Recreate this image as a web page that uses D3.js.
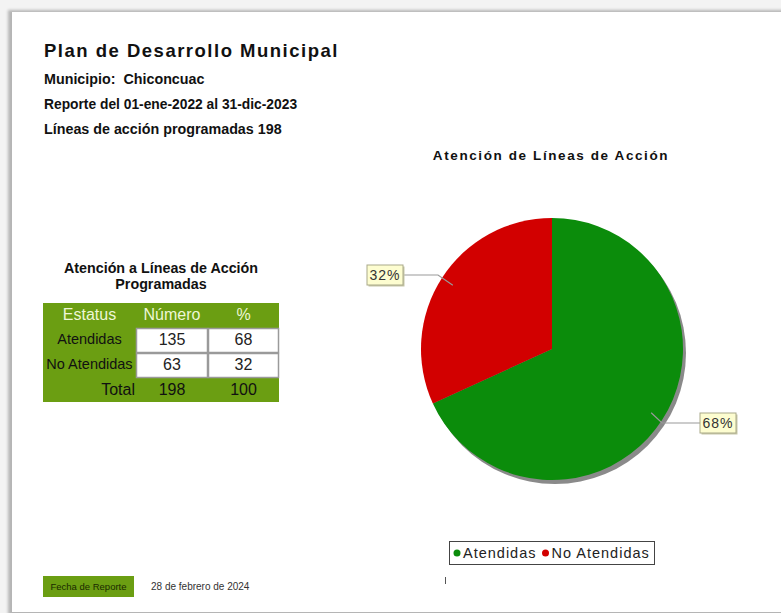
<!DOCTYPE html>
<html><head><meta charset="utf-8">
<script src="https://cdn.jsdelivr.net/npm/d3@7"></script>
<style>
html,body{margin:0;padding:0;background:#f3f3f3;}
svg{display:block;font-family:"Liberation Sans",Arial,sans-serif;}
</style></head>
<body>
<script>
const categories = ["Atendidas", "No Atendidas"];
const values = [135, 63];
const percents = [68, 32];
const totalLabel = ["Total", 198, 100];
const headers = ["Estatus", "Número", "%"];
const colors = ["#0b8c0b", "#d20000"];
const infoLines = ["Municipio:  Chiconcuac", "Reporte del 01-ene-2022 al 31-dic-2023", "Líneas de acción programadas 198"];

const W = 781, H = 613;
const svg = d3.select("body").append("svg").attr("width", W).attr("height", H);
const defs = svg.append("defs");
const f = defs.append("filter").attr("id","sh").attr("x","-10%").attr("y","-10%").attr("width","120%").attr("height","120%");
f.append("feGaussianBlur").attr("stdDeviation", 1.5);

// card
svg.append("rect").attr("x", 8).attr("y", 10).attr("width", 780).attr("height", 610).attr("fill", "#b5b5b5").attr("filter","url(#sh)");
svg.append("rect").attr("x", 12).attr("y", 12).attr("width", 780).attr("height", 600).attr("fill", "#fff");

// header texts
svg.append("text").attr("x", 44).attr("y", 57).attr("font-size", 18.5).attr("font-weight", "bold")
  .attr("letter-spacing", 1.5).attr("fill", "#111").text("Plan de Desarrollo Municipal");
const infoSizes = [14.3, 13.8, 14.3];
infoLines.forEach((t, i) => {
  svg.append("text").attr("x", 44).attr("y", 84 + i * 25).attr("font-size", infoSizes[i]).attr("font-weight", "bold")
    .attr("fill", "#111").style("white-space","pre").text(t);
});

// table title
const tt = svg.append("text").attr("font-size", 14.3).attr("font-weight", "bold").attr("text-anchor", "middle").attr("fill", "#111");
tt.append("tspan").attr("x", 161).attr("y", 273).text("Atención a Líneas de Acción");
tt.append("tspan").attr("x", 161).attr("y", 289).text("Programadas");

// table
const green = "#6b9e12";
const colX = [43, 136, 208, 279];
const rowY = [303, 328, 353, 378, 402];
const tbl = svg.append("g");
tbl.append("rect").attr("x", colX[0]).attr("y", rowY[0]).attr("width", colX[3] - colX[0]).attr("height", rowY[4] - rowY[0]).attr("fill", green);
headers.forEach((h, i) => {
  tbl.append("text").attr("x", (colX[i] + colX[i + 1]) / 2).attr("y", rowY[0] + 17).attr("text-anchor", "middle")
    .attr("font-size", 16).attr("fill", "#eef7d6").text(h);
});
categories.forEach((c, r) => {
  const y0 = rowY[r + 1], y1 = rowY[r + 2];
  tbl.append("text").attr("x", (colX[0] + colX[1]) / 2).attr("y", y0 + 16).attr("text-anchor", "middle")
    .attr("font-size", 14.5).attr("fill", "#111").text(c);
  [values[r], percents[r]].forEach((v, k) => {
    tbl.append("rect").attr("x", colX[k + 1] + 0.5).attr("y", y0 + 0.5).attr("width", colX[k + 2] - colX[k + 1] - 1).attr("height", y1 - y0 - 1)
      .attr("fill", "#fff").attr("stroke", "#9a9a9a").attr("stroke-width", 1.5);
    tbl.append("text").attr("x", (colX[k + 1] + colX[k + 2]) / 2).attr("y", y0 + 17).attr("text-anchor", "middle")
      .attr("font-size", 16).attr("fill", "#222").text(v);
  });
});
tbl.append("text").attr("x", colX[1] - 1).attr("y", rowY[3] + 17).attr("text-anchor", "end").attr("font-size", 16).attr("fill", "#111").text(totalLabel[0]);
[totalLabel[1], totalLabel[2]].forEach((v, k) => {
  tbl.append("text").attr("x", (colX[k + 1] + colX[k + 2]) / 2).attr("y", rowY[3] + 17).attr("text-anchor", "middle")
    .attr("font-size", 16).attr("fill", "#111").text(v);
});

// chart title
svg.append("text").attr("x", 551).attr("y", 160).attr("text-anchor", "middle").attr("font-size", 13.5).attr("font-weight", "bold")
  .attr("letter-spacing", 1.6).attr("fill", "#111").text("Atención de Líneas de Acción");

// pie
const cx = 552, cy = 349, R = 131;
const pie = d3.pie().sort(null).value(d => d)(values);
const arc = d3.arc().innerRadius(0).outerRadius(R);
const pg = svg.append("g").attr("transform", `translate(${cx},${cy})`);
pg.append("circle").attr("cx", 3).attr("cy", 4).attr("r", R).attr("fill", "#8a8a8a");
pg.selectAll("path.s").data(pie).join("path").attr("class", "s").attr("d", arc).attr("fill", (d, i) => colors[i]);

// labels
function labelBox(x, y, t) {
  const g = svg.append("g");
  const w = 36, h = 20;
  g.append("rect").attr("x", x + 1.5).attr("y", y - h / 2 + 1.5).attr("width", w).attr("height", h).attr("fill", "#c8c8a8");
  g.append("rect").attr("x", x).attr("y", y - h / 2).attr("width", w).attr("height", h).attr("fill", "#fdfdd0").attr("stroke", "#a9a98a");
  g.append("text").attr("x", x + w / 2).attr("y", y + 5).attr("text-anchor", "middle").attr("font-size", 14)
    .attr("letter-spacing", 1).attr("fill", "#333").text(t);
}
const lineArc = d3.arc().innerRadius(R * 0.9).outerRadius(R * 0.9);
pie.forEach((d, i) => {
  const [px, py] = lineArc.centroid(d);
  const ax = cx + px, ay = cy + py;
  let pts, bx;
  if (i === 1) {
    bx = 367;
    pts = [[ax, ay], [438, 275], [bx + 36, 275]];
    svg.append("polyline").attr("points", pts.map(p => p.join(",")).join(" ")).attr("fill", "none").attr("stroke", "#999").attr("stroke-width", 1.2);
    labelBox(bx, 275, percents[i] + "%");
  } else {
    bx = 700;
    pts = [[ax, ay], [662, 423], [bx, 423]];
    svg.append("polyline").attr("points", pts.map(p => p.join(",")).join(" ")).attr("fill", "none").attr("stroke", "#999").attr("stroke-width", 1.2);
    labelBox(bx, 423, percents[i] + "%");
  }
});

// legend
const lg = svg.append("g");
lg.append("rect").attr("x", 449.5).attr("y", 541.5).attr("width", 205).attr("height", 23).attr("fill", "#fff").attr("stroke", "#444");
let lx = 457;
categories.forEach((c, i) => {
  lg.append("circle").attr("cx", lx).attr("cy", 553).attr("r", 3.5).attr("fill", colors[i]);
  const t = lg.append("text").attr("x", lx + 6).attr("y", 558).attr("font-size", 14.5).attr("letter-spacing", 1).attr("fill", "#222").text(c);
  lx += 6 + t.node().getComputedTextLength() + 9;
});
svg.append("line").attr("x1", 445.5).attr("x2", 445.5).attr("y1", 577).attr("y2", 584).attr("stroke", "#555");

// footer
svg.append("rect").attr("x", 43).attr("y", 576).attr("width", 91).attr("height", 21).attr("fill", green);
svg.append("text").attr("x", 88.5).attr("y", 590).attr("text-anchor", "middle").attr("font-size", 9.5).attr("fill", "#1a2a00").text("Fecha de Reporte");
svg.append("text").attr("x", 151).attr("y", 590).attr("font-size", 10).attr("fill", "#333").text("28 de febrero de 2024");
</script>
</body></html>
